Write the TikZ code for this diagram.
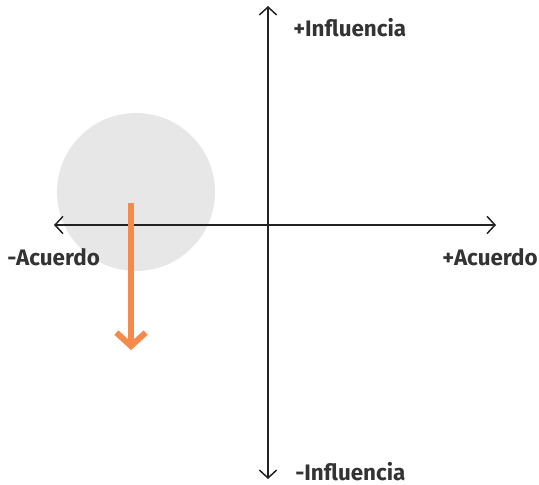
\documentclass[tikz,border=0pt]{standalone}
\usepackage{fontspec}
\setmainfont{Fira Sans}
\usetikzlibrary{arrows.meta}
\definecolor{txt}{HTML}{333333}
\definecolor{axis}{HTML}{222222}
\definecolor{blob}{HTML}{E6E7E6}
\definecolor{orng}{HTML}{F58A4B}
\tikzset{
  axisline/.style={draw=axis, line width=1.1pt, {Straight Barb[length=6pt,width=13pt,line width=1.1pt]}-{Straight Barb[length=6pt,width=13pt,line width=1.1pt]}},
  lbl/.style={text=txt, font=\fontsize{16.8}{20}\selectfont\bfseries, inner sep=0pt},
}
\begin{document}
\begin{tikzpicture}[x=0.75pt,y=-0.75pt]
\useasboundingbox (0,0) rectangle (539,485);
\fill[blob] (136,192) circle (79);
\coordinate (top) at (268,6);
\coordinate (bot) at (268,479);
\coordinate (lft) at (54,225);
\coordinate (rgt) at (496,225);
\draw[axisline] (bot) -- (top);
\draw[axisline] (lft) -- (rgt);
\coordinate (ostart) at (131,203);
\coordinate (oend) at (131,350);
\draw[orng, line width=4.5pt, -{Straight Barb[length=10pt,width=22pt,line width=4.5pt]}] (ostart) -- (oend);
\node[lbl, anchor=west] (pinf) at (293,28) {+Influencia};
\node[lbl, anchor=west] (minf) at (295,472) {-Influencia};
\node[lbl, anchor=west] (macu) at (7,257) {-Acuerdo};
\node[lbl, anchor=east] (pacu) at (538,257) {+Acuerdo};
\end{tikzpicture}
\end{document}
